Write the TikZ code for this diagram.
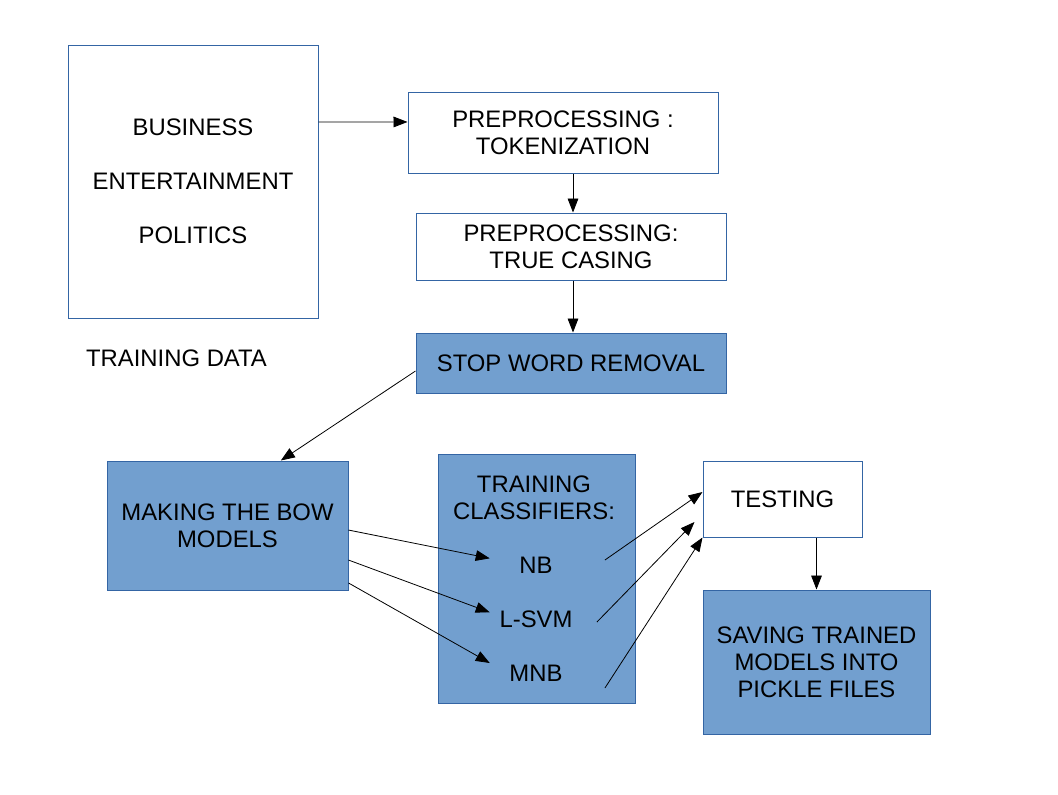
\documentclass[tikz,border=0pt]{standalone}
\usepackage{fontspec}
\setmainfont{Liberation Sans}
\usetikzlibrary{arrows.meta}
\definecolor{boxline}{HTML}{3465A4}
\definecolor{boxfill}{HTML}{729FCF}
\tikzset{
  plainbox/.style={shape=rectangle,draw=boxline,line width=0.75pt,align=center,inner sep=0pt},
  bluebox/.style={plainbox,fill=boxfill},
  arrow/.style={-{Triangle[length=10.5pt,width=8pt]},line width=0.6pt,black},
}
\begin{document}
\begin{tikzpicture}[x=0.75pt,y=-0.75pt,font=\fontsize{17.9}{20.25}\selectfont]
	\useasboundingbox (0,0) rectangle (1058,794);
	
	\node[plainbox,minimum width=187.5pt,minimum height=204.75pt] (train) at (193,181.5) {BUSINESS\\[20.25pt]ENTERTAINMENT\\[20.25pt]POLITICS};
	\node (traindata) at (176.5,358) {TRAINING DATA};
	\node[plainbox,minimum width=232.5pt,minimum height=60.75pt] (tok) at (563,132.5) {PREPROCESSING :\\TOKENIZATION};
	\node[plainbox,minimum width=232.5pt,minimum height=50.25pt] (casing) at (571,246.5) {PREPROCESSING:\\TRUE CASING};
	\node[bluebox,minimum width=232.5pt,minimum height=45pt] (stop) at (571,363) {STOP WORD REMOVAL};
	\node[bluebox,minimum width=180.75pt,minimum height=96.75pt] (bow) at (227.5,525.5) {MAKING THE BOW\\MODELS};
	\node[bluebox,minimum width=147.75pt,minimum height=186.75pt] (classbox) at (536.5,578.5) {};
	\node (classtitle) at (534,498) [align=center] {TRAINING\\CLASSIFIERS:};
	\node[minimum width=69pt] (nb) at (536,565) {NB};
	\node[minimum width=69pt] (lsvm) at (536,619) {L-SVM};
	\node[minimum width=69pt] (mnb) at (536,673) {MNB};
	\node[plainbox,minimum width=119.25pt,minimum height=57pt] (testing) at (782.5,499) {TESTING};
	\node[bluebox,minimum width=170.25pt,minimum height=108pt] (saving) at (816.5,662) {SAVING TRAINED\\MODELS INTO\\PICKLE FILES};
	
	\draw[arrow] ([yshift=44.6pt]train.east) -- ([yshift=7.9pt]tok.west);
	\draw[arrow] ([xshift=7.5pt]tok.south) -- ([xshift=1.5pt]casing.north);
	\draw[arrow] ([xshift=1.5pt]casing.south) -- ([xshift=1.5pt]stop.north);
	\draw[arrow] ([yshift=-6pt]stop.west) -- ([xshift=40pt]bow.north);
	\draw[arrow] ([yshift=-3.4pt]bow.east) -- ([yshift=5pt]nb.west);
	\draw[arrow] ([yshift=-25.9pt]bow.east) -- ([yshift=5pt]lsvm.west);
	\draw[arrow] ([yshift=-43.1pt]bow.east) -- ([yshift=7.5pt]mnb.west);
	\draw[arrow] ([xshift=17pt,yshift=3.75pt]nb.east) -- ([yshift=5.25pt]testing.west);
	\draw[arrow] ([xshift=11pt,yshift=-2.25pt]lsvm.east) -- ([xshift=-6pt,yshift=-17.25pt]testing.west);
	\draw[arrow] ([xshift=17pt,yshift=-11.25pt]mnb.east) -- (testing.south west);
	\draw[arrow] (saving.north |- testing.south) -- (saving.north);
	
\end{tikzpicture}
\end{document}
